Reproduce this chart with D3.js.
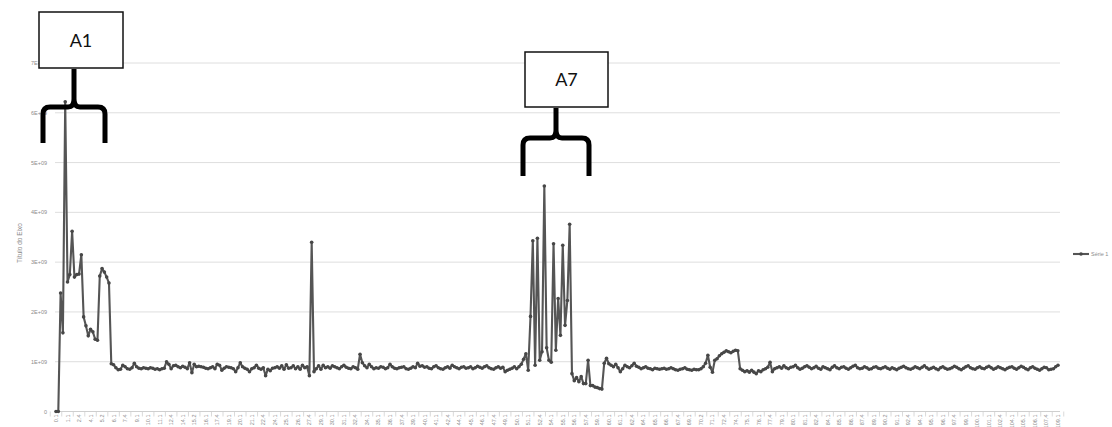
<!DOCTYPE html>
<html>
<head>
<meta charset="utf-8">
<script src="https://cdn.jsdelivr.net/npm/d3@7"></script>
<style>
  body { margin: 0; background: #fff; }
  svg { display: block; }
  .tick-label { font-family: "Liberation Sans", sans-serif; font-size: 5.5px; fill: #8c8c8c; }
  .axis-title { font-family: "Liberation Sans", sans-serif; font-size: 6.5px; fill: #8c8c8c; }
  .note { font-family: Lato, "Open Sans", sans-serif; font-size: 18px; fill: #111; }
</style>
</head>
<body>
<div id="chart"></div>
<script>
// x category labels (only every 5th point carries a label)
const categories = [
  "0.1", "1.1", "2.4", "4.1", "5.2", "6.1", "7.4", "9.1", "10.1", "11.1", "12.4", "14.1",
  "15.2", "16.1", "17.4", "19.1", "20.1", "21.1", "22.4", "24.1", "25.1", "26.1", "27.4", "29.1",
  "30.1", "31.1", "32.4", "34.1", "35.1", "36.1", "37.4", "39.1", "40.1", "41.1", "42.4", "44.1",
  "45.1", "46.1", "47.4", "49.1", "50.1", "51.1", "52.4", "54.1", "55.1", "56.1", "57.4", "59.1",
  "60.1", "61.1", "62.4", "64.1", "65.1", "66.1", "67.4", "69.1", "70.2", "71.1", "72.4", "74.1",
  "75.1", "76.1", "77.4", "79.1", "80.1", "81.1", "82.4", "84.1", "85.1", "86.1", "87.4", "89.1",
  "90.2", "91.1", "92.4", "94.1", "95.1", "96.1", "97.4", "99.1", "100.1", "101.1", "102.4", "104.1",
  "105.1", "106.1", "107.4", "109.1"
]
const pointsPerLabel = 5

// Série 1, in units of 1E+09
const serie1 = [
  0, 0, 2.38, 1.58, 6.22, 2.6, 2.75, 3.62, 2.7, 2.75, 2.76, 3.15, 1.9, 1.72, 1.52, 1.65, 1.6, 1.45, 1.43, 2.72,
  2.87, 2.8, 2.7, 2.58, 0.96, 0.94, 0.88, 0.84, 0.85, 0.93, 0.9, 0.86, 0.85, 0.88, 0.97, 0.9, 0.87, 0.86, 0.88, 0.87,
  0.86, 0.88, 0.87, 0.85, 0.86, 0.84, 0.86, 0.87, 1.0, 0.95, 0.86, 0.92, 0.93, 0.9, 0.88, 0.91, 0.89, 0.86, 0.98, 0.78,
  0.95, 0.9, 0.91, 0.9, 0.89, 0.87, 0.86, 0.88, 0.9, 0.86, 0.95, 0.93, 0.83, 0.87, 0.9, 0.89, 0.88, 0.86, 0.8, 0.88,
  0.98, 0.9, 0.87, 0.85, 0.8, 0.86, 0.88, 0.93, 0.87, 0.85, 0.88, 0.72, 0.85, 0.82, 0.87, 0.88, 0.9, 0.87, 0.92, 0.85,
  0.94, 0.87, 0.88, 0.92, 0.86, 0.9, 0.85, 0.93, 0.88, 0.9, 0.72, 3.4, 0.8, 0.86, 0.92, 0.85, 0.93, 0.88, 0.9, 0.87,
  0.92, 0.9, 0.88, 0.86, 0.9, 0.93, 0.89, 0.87, 0.86, 0.9, 0.88, 0.85, 1.15, 0.98, 0.92, 0.88, 0.95, 0.9, 0.86, 0.88,
  0.87, 0.9, 0.89, 0.86, 0.88, 0.95, 0.9, 0.87, 0.86, 0.88, 0.89, 0.9, 0.86, 0.85, 0.87, 0.9, 0.88, 0.97, 0.91, 0.92,
  0.89, 0.9, 0.87, 0.86, 0.9, 0.92, 0.88, 0.86, 0.85, 0.88, 0.9, 0.87, 0.93, 0.9, 0.88, 0.86, 0.89, 0.9, 0.87, 0.88,
  0.9, 0.86, 0.88, 0.91, 0.89, 0.87, 0.9, 0.92, 0.88, 0.86, 0.85, 0.88, 0.9, 0.87, 0.89, 0.8, 0.83, 0.85, 0.87, 0.9,
  0.86, 0.9, 0.95, 1.05, 1.16, 0.83, 1.91, 3.43, 0.93, 3.48, 1.03, 1.2, 4.53, 1.28, 1.03, 0.99, 3.37, 1.23, 2.27, 1.53,
  3.34, 1.73, 2.23, 3.76, 0.76, 0.62, 0.68, 0.6, 0.7, 0.56, 0.56, 1.03, 0.52, 0.52, 0.49, 0.48, 0.46, 0.45, 0.97, 1.07,
  0.96, 0.93, 0.9, 0.95, 0.88, 0.8, 0.86, 0.93, 0.9, 0.88, 0.92, 0.97, 0.91, 0.89, 0.86, 0.88, 0.9, 0.87, 0.86, 0.84,
  0.87, 0.86, 0.85, 0.86, 0.87, 0.85, 0.86, 0.88, 0.86, 0.84, 0.83, 0.85, 0.86, 0.88, 0.85, 0.84, 0.83, 0.85, 0.84, 0.84,
  0.86, 0.9, 0.97, 1.13, 0.89, 0.79, 1.03, 1.06, 1.12, 1.16, 1.19, 1.22, 1.2, 1.18, 1.21, 1.23, 1.22, 0.86, 0.83, 0.8,
  0.82, 0.79, 0.83, 0.79, 0.76, 0.82, 0.8, 0.84, 0.86, 0.89, 0.99, 0.8, 0.86, 0.88, 0.9, 0.87, 0.92, 0.88, 0.86, 0.89,
  0.9, 0.93, 0.88, 0.85, 0.87, 0.9, 0.92, 0.89, 0.86, 0.88, 0.91, 0.87, 0.85, 0.9, 0.88, 0.86, 0.84, 0.89, 0.92, 0.88,
  0.86, 0.89, 0.9, 0.87, 0.85, 0.88, 0.91, 0.93, 0.88, 0.86, 0.87, 0.9, 0.88, 0.85, 0.86, 0.89, 0.9, 0.87, 0.86, 0.88,
  0.9, 0.87, 0.85, 0.88, 0.86, 0.84, 0.87, 0.89, 0.91, 0.88, 0.86, 0.85, 0.87, 0.9, 0.88, 0.86, 0.89, 0.92, 0.88, 0.85,
  0.87, 0.89, 0.86, 0.84, 0.88, 0.9, 0.87, 0.85, 0.86, 0.88, 0.91, 0.89, 0.86, 0.84, 0.87, 0.9, 0.92, 0.88, 0.86, 0.85,
  0.88, 0.9, 0.87, 0.86, 0.89, 0.91, 0.88, 0.85, 0.87, 0.9, 0.88, 0.86, 0.84, 0.87, 0.89, 0.9, 0.87, 0.85, 0.88, 0.91,
  0.89, 0.86, 0.84, 0.88, 0.9, 0.87, 0.85, 0.83, 0.86, 0.89, 0.88, 0.84, 0.85, 0.86, 0.9, 0.93
]

const yTicks = [0, 1, 2, 3, 4, 5, 6, 7]
const yTickLabels = ["0", "1E+09", "2E+09", "3E+09", "4E+09", "5E+09", "6E+09", "7E+09"]
const seriesName = "Série 1"
const yTitle = "Título do Eixo"

// brace + box callouts laid over the chart
const notes = [
  { label: "A1", box: [39, 12, 84, 56], stemX: 74, left: 43, right: 105, top: 107, bottom: 143 },
  { label: "A7", box: [525, 52, 83, 55], stemX: 556, left: 523, right: 589, top: 138, bottom: 176 }
]

const width = 1112
const height = 427
const margin = { top: 63, right: 54, bottom: 15.5, left: 56 }

const svg = d3.select('#chart')
    .append('svg')
    .attr('width', width)
    .attr('height', height)

const x = d3.scaleLinear()
    .domain([0, serie1.length - 1])
    .range([margin.left, width - margin.right])

const y = d3.scaleLinear()
    .domain([0, 7])
    .range([height - margin.bottom, margin.top])

// gridlines
svg.append('g')
    .selectAll('line')
    .data(yTicks)
    .enter().append('line')
    .attr('x1', margin.left - 1)
    .attr('x2', width - margin.right + 2)
    .attr('y1', d => y(d))
    .attr('y2', d => y(d))
    .attr('stroke', d => d == 0 ? '#cfcfcf' : '#dedede')
    .attr('stroke-width', 1)

// y tick labels
svg.append('g')
    .selectAll('text')
    .data(yTicks)
    .enter().append('text')
    .attr('class', 'tick-label')
    .attr('x', 47)
    .attr('y', d => y(d) + 2)
    .attr('text-anchor', 'end')
    .text((d, i) => yTickLabels[i])

// x ticks between the labels
const tickStep = x(pointsPerLabel) - x(0)
svg.append('g')
    .selectAll('line')
    .data(d3.range(categories.length + 1))
    .enter().append('line')
    .attr('x1', i => x(i * pointsPerLabel) - tickStep / 2)
    .attr('x2', i => x(i * pointsPerLabel) - tickStep / 2)
    .attr('y1', y(0))
    .attr('y2', y(0) + 5)
    .attr('stroke', '#d0d0d0')
    .attr('stroke-width', 0.8)

// x tick labels, rotated
svg.append('g')
    .selectAll('text')
    .data(categories)
    .enter().append('text')
    .attr('class', 'tick-label')
    .attr('text-anchor', 'end')
    .attr('transform', (d, i) => `translate(${x(i * pointsPerLabel) + 2}, ${y(0) + 3}) rotate(-90)`)
    .text(d => d)

// axis title
svg.append('text')
    .attr('class', 'axis-title')
    .attr('text-anchor', 'middle')
    .attr('transform', `translate(22, 243) rotate(-90)`)
    .text(yTitle)

// series line + markers
const lineGenerator = d3.line()
    .x((d, i) => x(i))
    .y(d => y(d))

svg.append('path')
    .datum(serie1)
    .attr('d', lineGenerator)
    .attr('fill', 'none')
    .attr('stroke', '#555')
    .attr('stroke-width', 2.1)
    .attr('stroke-linejoin', 'round')

svg.append('g')
    .selectAll('circle')
    .data(serie1)
    .enter().append('circle')
    .attr('cx', (d, i) => x(i))
    .attr('cy', d => y(d))
    .attr('r', 1.8)
    .attr('fill', '#474747')

// legend
const legend = svg.append('g')
    .attr('transform', 'translate(1073, 254)')
legend.append('line')
    .attr('x1', 0).attr('x2', 16)
    .attr('stroke', '#555')
    .attr('stroke-width', 2.1)
legend.append('circle')
    .attr('cx', 8).attr('r', 1.8)
    .attr('fill', '#474747')
legend.append('text')
    .attr('class', 'tick-label')
    .attr('x', 18)
    .attr('y', 2)
    .text(seriesName)

// callouts
notes.forEach(n => {
    const g = svg.append('g')
    const [bx, by, bw, bh] = n.box
    g.append('rect')
        .attr('x', bx).attr('y', by)
        .attr('width', bw).attr('height', bh)
        .attr('fill', '#fff')
        .attr('stroke', '#111')
        .attr('stroke-width', 1.5)
    g.append('text')
        .attr('class', 'note')
        .attr('x', bx + bw / 2)
        .attr('y', by + bh / 2 + 6.5)
        .attr('text-anchor', 'middle')
        .text(n.label)

    const c = n.stemX
    const r = 7
    const brace = d3.path()
    brace.moveTo(n.left, n.bottom)
    brace.lineTo(n.left, n.top + r)
    brace.quadraticCurveTo(n.left, n.top, n.left + r, n.top)
    brace.lineTo(c - 6, n.top)
    brace.quadraticCurveTo(c, n.top, c, n.top - 8)
    brace.lineTo(c, by + bh + 1)
    brace.moveTo(n.right, n.bottom)
    brace.lineTo(n.right, n.top + r)
    brace.quadraticCurveTo(n.right, n.top, n.right - r, n.top)
    brace.lineTo(c + 6, n.top)
    brace.quadraticCurveTo(c, n.top, c, n.top - 8)

    g.append('path')
        .attr('d', brace.toString())
        .attr('fill', 'none')
        .attr('stroke', '#000')
        .attr('stroke-width', 5)
})
</script>
</body>
</html>
